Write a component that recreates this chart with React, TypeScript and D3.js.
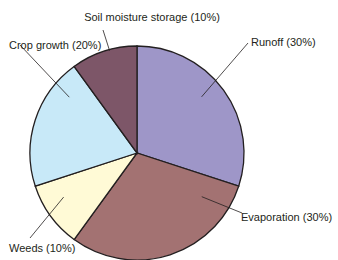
import React, { useEffect, useRef } from "react";
import * as d3 from "d3";

const categories = ["Runoff", "Evaporation", "Weeds", "Crop growth", "Soil moisture storage"];
const shares = [30, 30, 10, 20, 10];
const colors = ["#9e96c8", "#a37272", "#fffad6", "#c8e9f8", "#7d5668"];

// leader line: inner anchor (angle in degrees from 12 o'clock, radius fraction), outer end, label spot
const leaders = [
  { angle: 49, frac: 0.8, end: [248, 43], text: [251, 46], anchor: "start" },
  { angle: 124, frac: 0.73, end: [242, 213], text: [241, 221], anchor: "start" },
  { angle: 239, frac: 0.8, end: [30, 238], text: [9, 252], anchor: "start" },
  { angle: 309.5, frac: 0.82, end: [20, 45], text: [9, 49], anchor: "start" },
  { angle: 345, frac: 0.99, end: [103, 30], text: [152, 21], anchor: "middle" },
];

export default function App() {
  const ref = useRef<SVGSVGElement>(null);

  useEffect(() => {
    const svg = d3.select(ref.current).attr("width", 338).attr("height", 260);
    svg.selectAll("*").remove();

    const cx = 137;
    const cy = 153;
    const r = 107;

    const data = categories.map((c, i) => ({ name: c, value: shares[i], color: colors[i] }));
    const pie = d3.pie<any>().value((d) => d.value).sort(null);
    const arc = d3.arc<any>().innerRadius(0).outerRadius(r);

    const g = svg.append("g").attr("transform", `translate(${cx},${cy})`);
    g.selectAll("path")
      .data(pie(data))
      .enter()
      .append("path")
      .attr("d", arc)
      .attr("fill", (d) => d.data.color)
      .attr("stroke", "#231f20")
      .attr("stroke-width", 1.3);

    leaders.forEach((l, i) => {
      const a = (l.angle * Math.PI) / 180;
      const x0 = cx + Math.sin(a) * r * l.frac;
      const y0 = cy - Math.cos(a) * r * l.frac;
      svg.append("line")
        .attr("x1", x0)
        .attr("y1", y0)
        .attr("x2", l.end[0])
        .attr("y2", l.end[1])
        .attr("stroke", "#231f20")
        .attr("stroke-width", 0.8);
      svg.append("text")
        .attr("x", l.text[0])
        .attr("y", l.text[1])
        .attr("text-anchor", l.anchor)
        .style("font-family", "Liberation Sans, Arial, sans-serif")
        .style("font-size", "11px")
        .attr("fill", "#231f20")
        .text(`${categories[i]} (${shares[i]}%)`);
    });
  }, []);

  return <svg ref={ref} style={{ position: "absolute", left: 0, top: 0 }} />;
}
